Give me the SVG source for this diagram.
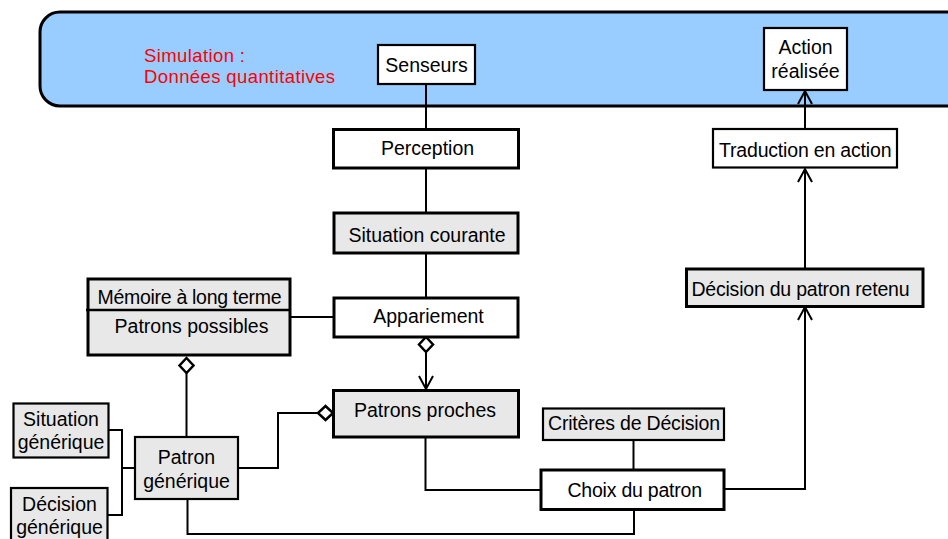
<svg xmlns="http://www.w3.org/2000/svg" width="948" height="539" viewBox="0 0 948 539">
<defs>
<style>
text{font-family:"Liberation Sans",Arial,sans-serif;font-size:19.5px;fill:#000}
.c{text-anchor:middle}
.red{fill:#FF0000;font-size:18.5px}
.w3{fill:#fff;stroke:#000;stroke-width:3}
.w2{fill:#fff;stroke:#000;stroke-width:2.2}
.g3{fill:#E8E8E8;stroke:#000;stroke-width:3}
.g2{fill:#E8E8E8;stroke:#000;stroke-width:2.2}
.ln{fill:none;stroke:#000;stroke-width:2}
</style>
<marker id="arr" markerUnits="userSpaceOnUse" viewBox="-15 -10 17 20" markerWidth="17" markerHeight="20" refX="0" refY="0" orient="auto" overflow="visible">
<path d="M-13,-7 L0,0 L-13,7" fill="none" stroke="#000" stroke-width="2"/>
</marker>
<marker id="dia" markerUnits="userSpaceOnUse" viewBox="-2 -9 19 18" markerWidth="19" markerHeight="18" refX="0" refY="0" orient="auto" overflow="visible">
<path d="M0,0 L7.5,-7 L15,0 L7.5,7 Z" fill="#fff" stroke="#000" stroke-width="2.5"/>
</marker>
</defs>

<g id="simulation">
<rect x="40" y="12" width="940" height="94" rx="20" ry="20" fill="#99CCFF" stroke="#000" stroke-width="3"/>
<text class="red" x="144" y="61.5" textLength="101" lengthAdjust="spacing">Simulation :</text>
<text class="red" x="144" y="82.5" textLength="191" lengthAdjust="spacing">Données quantitatives</text>
</g>

<g id="connectors">
<path class="ln" d="M426,84 L426,129"/>
<path class="ln" d="M426,168 L426,213"/>
<path class="ln" d="M426,253 L426,298"/>
<path class="ln" d="M290,317 L334,317"/>
<path class="ln" d="M426,337 L426,389" marker-start="url(#dia)" marker-end="url(#arr)"/>
<path class="ln" d="M186.5,358 L186.5,437" marker-start="url(#dia)"/>
<path class="ln" d="M333,413 L278,413 L278,468 L238,468" marker-start="url(#dia)"/>
<path class="ln" d="M108,430 L122,430 L122,515 L108,515"/>
<path class="ln" d="M122,468 L135,468" stroke-width="3"/>
<path class="ln" d="M425.5,437 L425.5,490 L541,490"/>
<path class="ln" d="M633.5,440 L633.5,470"/>
<path class="ln" d="M634,509 L634,534 L187.5,534 L187.5,499"/>
<path class="ln" d="M724,489 L805,489 L805,307" marker-end="url(#arr)"/>
<path class="ln" d="M805,269 L805,169" marker-end="url(#arr)"/>
<path class="ln" d="M805,129 L805,91" marker-end="url(#arr)"/>
</g>

<g id="senseurs">
<rect class="w2" x="378" y="45" width="97" height="39"/>
<text class="c" x="426.5" y="72">Senseurs</text>
</g>

<g id="action-realisee">
<rect class="w2" x="764" y="28" width="83" height="62"/>
<text class="c" x="805.5" y="54">Action</text>
<text class="c" x="805.5" y="78">réalisée</text>
</g>

<g id="perception">
<rect class="w3" x="333.5" y="129.5" width="185" height="38.5"/>
<text class="c" x="427.5" y="154.5">Perception</text>
</g>

<g id="traduction">
<rect class="w2" x="713" y="129" width="184" height="38.5"/>
<text x="719" y="157" textLength="172.5" lengthAdjust="spacing">Traduction en action</text>
</g>

<g id="situation-courante">
<rect class="g3" x="334" y="213" width="184" height="40"/>
<text class="c" x="427" y="242">Situation courante</text>
</g>

<g id="decision-patron-retenu">
<rect class="g3" x="686.5" y="269" width="236.5" height="37.5"/>
<text x="691.5" y="296" textLength="218" lengthAdjust="spacing">Décision du patron retenu</text>
</g>

<g id="memoire">
<rect class="g3" x="88" y="279" width="202" height="76"/>
<path d="M86,310 L291,310" stroke="#000" stroke-width="2.5"/>
<text x="97.5" y="304" textLength="184" lengthAdjust="spacing">Mémoire à long terme</text>
<text class="c" x="191.5" y="332.5">Patrons possibles</text>
</g>

<g id="appariement">
<rect class="w3" x="334" y="298" width="184" height="39"/>
<text class="c" x="428.5" y="323">Appariement</text>
</g>

<g id="patrons-proches">
<rect class="g3" x="333.5" y="390.5" width="185" height="46.5"/>
<text class="c" x="425" y="417">Patrons proches</text>
</g>

<g id="criteres">
<rect class="g2" x="543" y="408.5" width="181" height="31.5"/>
<text x="548" y="429.5" textLength="172" lengthAdjust="spacing">Critères de Décision</text>
</g>

<g id="choix-patron">
<rect class="w3" x="541" y="470" width="183" height="39.5"/>
<text x="567.5" y="497" textLength="134.5" lengthAdjust="spacing">Choix du patron</text>
</g>

<g id="patron-generique">
<rect class="g2" x="135" y="437" width="103" height="62"/>
<text class="c" x="186.5" y="464">Patron</text>
<text class="c" x="186.5" y="487.5">générique</text>
</g>

<g id="situation-generique">
<rect class="g2" x="13.5" y="403.5" width="95" height="54"/>
<text class="c" x="61" y="425.5">Situation</text>
<text class="c" x="61" y="448.5">générique</text>
</g>

<g id="decision-generique">
<rect class="g2" x="11" y="488" width="96.5" height="60"/>
<text class="c" x="59.5" y="511">Décision</text>
<text class="c" x="59.5" y="533.5">générique</text>
</g>
</svg>
